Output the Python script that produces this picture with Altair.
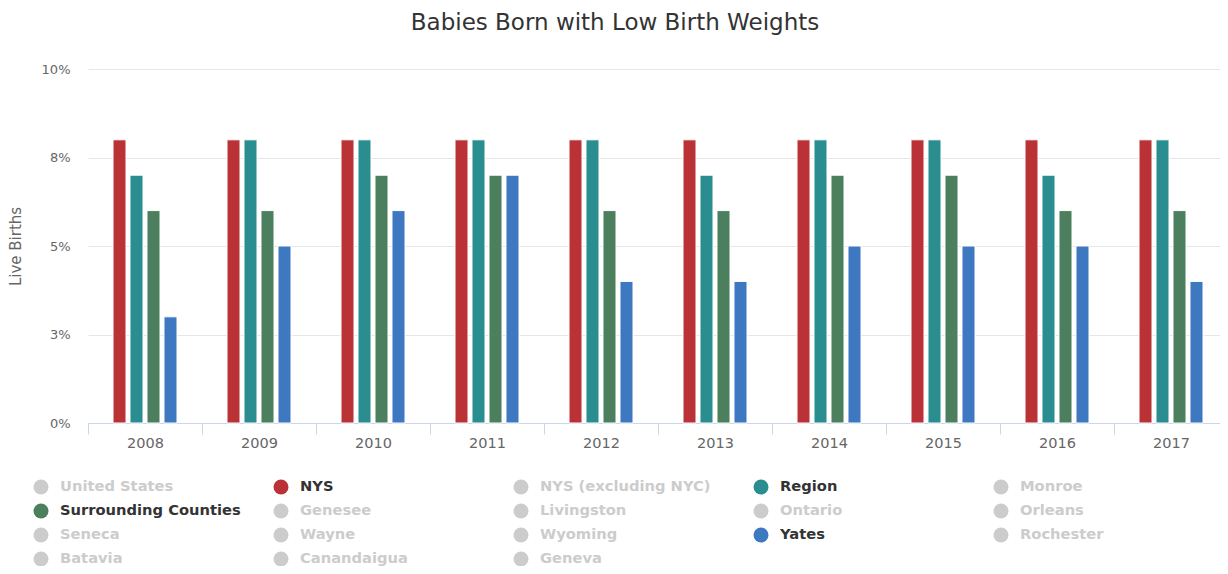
import altair as alt
import pandas as pd

# ---- data ----
years = ["2008", "2009", "2010", "2011", "2012", "2013", "2014", "2015", "2016", "2017"]
series = ["NYS", "Region", "Surrounding Counties", "Yates"]
series_colors = ["#BA3236", "#2A8D8F", "#4B7F5D", "#3D78C1"]

nys = [8, 8, 8, 8, 8, 8, 8, 8, 8, 8]
region = [7, 8, 8, 8, 8, 7, 8, 8, 7, 8]
surrounding = [6, 6, 7, 7, 6, 6, 7, 7, 6, 6]
yates = [3, 5, 6, 7, 4, 4, 5, 5, 5, 4]

y_ticks = [0, 2.5, 5, 7.5, 10]

legend_names = [
    "United States", "NYS", "NYS (excluding NYC)", "Region", "Monroe",
    "Surrounding Counties", "Genesee", "Livingston", "Ontario", "Orleans",
    "Seneca", "Wayne", "Wyoming", "Yates", "Rochester",
    "Batavia", "Canandaigua", "Geneva",
]
legend_columns = 5

# ---- tables built from the lists ----
values = {"NYS": nys, "Region": region, "Surrounding Counties": surrounding, "Yates": yates}
rows = []
for s in series:
    for yr, v in zip(years, values[s]):
        rows.append({"year": yr, "series": s, "value": v})
df = pd.DataFrame(rows)

color_of = dict(zip(series, series_colors))
leg_rows = []
for i, name in enumerate(legend_names):
    on = name in color_of
    leg_rows.append({
        "name": name,
        "col": i % legend_columns,
        "row": i // legend_columns,
        "dot": color_of.get(name, "#cccccc"),
        "txt": "#333333" if on else "#cccccc",
    })
leg = pd.DataFrame(leg_rows)

FONT = "DejaVu Sans"

bars = alt.Chart(df).mark_bar(stroke="white", strokeWidth=1).encode(
    x=alt.X(
        "year:N", sort=years,
        scale=alt.Scale(paddingInner=0, paddingOuter=0, range=[0, 1140]),
        axis=alt.Axis(
            title=None, labelAngle=0, tickBand="extent",
            domainColor="#ccd6eb", tickColor="#ccd6eb", tickSize=11,
            labelFontSize=14.5, labelColor="#666666", labelFont=FONT, labelPadding=2,
        ),
    ),
    xOffset=alt.XOffset(
        "series:N", sort=series,
        scale=alt.Scale(paddingInner=0.235, paddingOuter=0, range=[25, 89]),
    ),
    y=alt.Y(
        "value:Q",
        scale=alt.Scale(domain=[0, 10]),
        axis=alt.Axis(
            values=y_ticks, labelExpr="round(datum.value) + '%'",
            title="Live Births", titleFont=FONT, titleFontSize=15,
            titleFontWeight="normal", titleColor="#666666", titlePadding=18,
            grid=True, gridColor="#e6e6e6", domain=False, ticks=False, tickSize=0,
            labelPadding=18, labelFontSize=13, labelColor="#666666", labelFont=FONT,
        ),
    ),
    color=alt.Color("series:N", sort=series,
                    scale=alt.Scale(domain=series, range=series_colors), legend=None),
)

leg_x = alt.X("col:Q", scale=alt.Scale(domain=[0, 4], range=[-47, 913]), axis=None)
leg_y = alt.Y("row:Q", scale=alt.Scale(domain=[0, 3], range=[418, 490]), axis=None)

dots = alt.Chart(leg).mark_circle(size=225, opacity=1).encode(
    x=leg_x, y=leg_y, color=alt.Color("dot:N", scale=None),
)
labels = alt.Chart(leg).mark_text(
    align="left", baseline="middle", dx=19, font=FONT, fontWeight="bold", fontSize=14.7,
).encode(
    x=leg_x, y=leg_y, text="name:N", color=alt.Color("txt:N", scale=None),
)

chart = alt.layer(bars, dots, labels).resolve_scale(
    x="independent", y="independent", color="independent",
).properties(
    width=1132, height=354,
    autosize=alt.AutoSizeParams(type="none"),
    padding={"left": 80, "top": 61, "right": 0, "bottom": 143},
    title=alt.Title(
        "Babies Born with Low Birth Weights", font=FONT, fontSize=23,
        fontWeight="normal", color="#333333", anchor="middle", dx=-39, offset=28,
    ),
).configure_view(stroke=None)

chart.save("out.html", embed_options={"renderer": "svg", "actions": False})
